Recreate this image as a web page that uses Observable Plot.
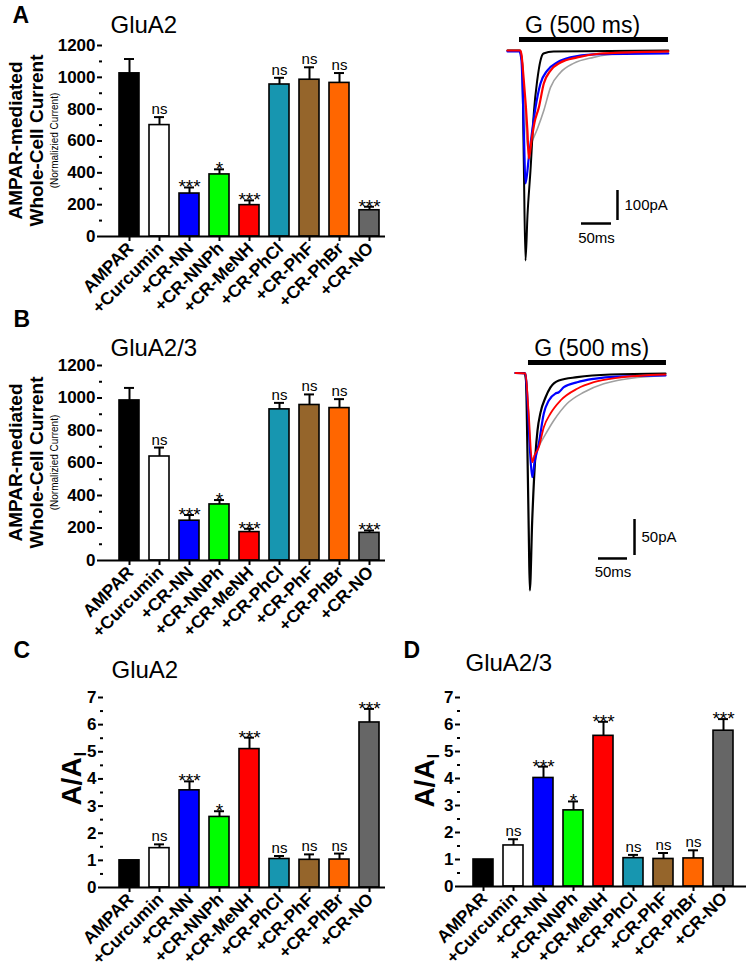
<!DOCTYPE html>
<html><head><meta charset="utf-8">
<script src="https://cdn.jsdelivr.net/npm/d3@7"></script>
<script src="https://cdn.jsdelivr.net/npm/@observablehq/plot@0.6"></script>
<style>
body{margin:0;background:#fff;}
#fig{position:relative;width:750px;height:969px;background:#fff;overflow:hidden;font-family:"Liberation Sans",Arial,sans-serif;}
</style></head><body><div id="fig"></div>
<script>
// ---------- data ----------
const categories = ["AMPAR","+Curcumin","+CR-NN","+CR-NNPh","+CR-MeNH","+CR-PhCl","+CR-PhF","+CR-PhBr","+CR-NO"];
const barColors = ["#000000","#ffffff","#0000ff","#00ff00","#ff0000","#1796b0","#95652b","#ff6600","#666666"];

const currentA    = [1025, 700, 270, 390, 197, 955, 985, 965, 165];
const currentAErr = [90, 50, 38, 32, 30, 42, 78, 62, 22];
const currentB    = [985, 640, 245, 345, 175, 930, 957, 938, 170];
const currentBErr = [77, 55, 35, 27, 20, 40, 65, 55, 15];
const ratioC      = [1, 1.45, 3.58, 2.6, 5.1, 1.05, 1.02, 1.03, 6.08];
const ratioCErr   = [0, 0.14, 0.33, 0.21, 0.42, 0.11, 0.2, 0.22, 0.5];
const ratioD      = [1, 1.52, 4.02, 2.82, 5.58, 1.05, 1.02, 1.04, 5.77];
const ratioDErr   = [0, 0.23, 0.42, 0.33, 0.52, 0.12, 0.22, 0.3, 0.43];
const sigAll      = ["", "ns", "***", "*", "***", "ns", "ns", "ns", "***"];

const currentTicks = [0, 200, 400, 600, 800, 1000, 1200];
const currentMinor = [100, 300, 500, 700, 900, 1100];
const ratioTicks   = [0, 1, 2, 3, 4, 5, 6, 7];
const ratioMinor   = [0.5, 1.5, 2.5, 3.5, 4.5, 5.5, 6.5];

// current traces (time in ms, current in pA)
const trA_black_t = [0, 20, 22.8, 24.5, 27.2, 30, 33.3, 38.3, 44.2, 49.5, 55, 60, 76.7, 268];
const trA_black_i = [0, 0, -17, -43, -377, -700, -550, -400, -200, -100, -33, -10, -3, 0];
const trA_blue_t  = [0, 20, 23.3, 27.2, 30, 35.5, 41.2, 46.7, 55, 66.2, 82.8, 105, 143.3, 268];
const trA_blue_i  = [-3, -3, -33, -267, -443, -357, -267, -190, -110, -67, -40, -23, -13, -10];
const trA_red_t   = [0, 21.7, 27.2, 33.2, 35.5, 40, 45, 52.2, 60.5, 71.7, 88.3, 116.2, 155, 188.3, 268];
const trA_red_i   = [0, 0, -100, -267, -360, -300, -240, -190, -110, -67, -40, -23, -10, -7, -3];
const trA_gray_t  = [0, 21.7, 35, 41.7, 50, 60.5, 71.7, 88.3, 110, 143.3, 188.3, 268];
const trA_gray_i  = [0, 0, -333, -300, -260, -200, -123, -73, -43, -23, -10, -7];

const trB_black_t = [0, 15.5, 18.1, 20.2, 23, 24.7, 28.8, 34.5, 37.9, 43.1, 51.7, 60.3, 74.7, 106.4, 163.8, 258.6];
const trB_black_i = [0, 0, -10.4, -89.6, -228, -302, -205, -112, -80, -55, -34, -20, -10.4, -5.8, -2.1, -0.7];
const trB_blue_t  = [0, 17.2, 20.7, 25, 28.8, 32.8, 40.2, 48.8, 57.4, 69, 74.7, 83.3, 106.4, 135, 175.3, 258.6];
const trB_blue_i  = [0, -0.7, -38.2, -107.6, -144.7, -124.3, -97.9, -56.3, -38.2, -28.5, -26.7, -19.7, -12.8, -8.1, -4.9, -3.5];
const trB_red_t   = [0, 17.2, 22.4, 28.8, 32.8, 40.2, 48.8, 60.3, 77.6, 106.4, 135, 175.3, 258.6];
const trB_red_i   = [0, -0.7, -52.1, -123.9, -114.6, -103.1, -75.3, -56.3, -38.2, -21.9, -12.8, -6.7, -2.1];
const trB_gray_t  = [17.2, 28.8, 36.2, 48.8, 66, 89.1, 117.8, 152.2, 175.3, 258.6];
const trB_gray_i  = [-0.7, -118.8, -107.6, -89.2, -66, -42.4, -26.7, -15, -10.4, -3.5];

// stimulus bar and scale bars (data units: ms, pA)
const stimA  = {t0: 20, t1: 268.3, i: 36.7};
const scaleA = {vt: 183.3, vi0: -466.7, vi1: -566.7, hi: -576.7, ht0: 123.3, ht1: 173.3, vLabel: "100pA", hLabel: "50ms"};
const stimB  = {t0: 22.4, t1: 260.3, i: 14.6};
const scaleB = {vt: 205.2, vi0: -203.5, vi1: -253.5, hi: -257.6, ht0: 143.1, ht1: 193.1, vLabel: "50pA", hLabel: "50ms"};

// ---------- drawing ----------
const fig = document.getElementById("fig");
const FONT = '"Liberation Sans", Arial, sans-serif';
function place(svg, left, top) {
  svg.style.position = "absolute";
  svg.style.left = left + "px";
  svg.style.top = top + "px";
  fig.appendChild(svg);
}

function barPanel(p) {
  const rows = categories.map((c, i) => ({cat: c, v: p.vals[i], e: p.errs[i], s: sigAll[i], color: barColors[i]}));
  const withErr = rows.filter(d => d.e > 0);
  const T = (str, px, py, o) => Plot.text([str], {frameAnchor: "top-left", dx: px - p.left - p.ml, dy: py - p.top - p.mt, text: d => d, ...o});
  const svg = Plot.plot({
    width: p.width, height: p.height,
    marginLeft: p.ml, marginTop: p.mt, marginRight: p.mr, marginBottom: p.mb,
    x: {type: "band", domain: categories, range: p.xRange, paddingInner: 0.34, paddingOuter: 0.17, align: 0.5},
    y: {domain: p.yDomain},
    color: {type: "identity"},
    style: {background: "transparent", overflow: "visible", fontFamily: FONT, fontWeight: "bold", color: "#000"},
    marks: [
      Plot.barY(rows, {x: "cat", y: "v", fill: "color", stroke: "#000", strokeWidth: 1.6}),
      Plot.ruleX(withErr, {x: "cat", y1: "v", y2: d => d.v + d.e, stroke: "#000", strokeWidth: 2}),
      Plot.tickY(withErr, {x: "cat", y: d => d.v + d.e, stroke: "#000", strokeWidth: 2, insetLeft: 5, insetRight: 5}),
      Plot.text(rows.filter(d => d.s === "ns"), {x: "cat", y: d => d.v + d.e, text: "s", dy: -3, lineAnchor: "bottom", fontSize: 15, fontWeight: "normal"}),
      Plot.text(rows.filter(d => d.s.startsWith("*")), {x: "cat", y: d => d.v + d.e, text: "s", dy: 6, lineAnchor: "bottom", fontSize: 19, fontWeight: "normal"}),
      Plot.ruleY([p.yDomain[0]], {stroke: "#000", strokeWidth: 2}),
      Plot.axisY({ticks: p.major, tickFormat: d => String(d), tickSize: 5, tickPadding: 2, fontSize: 17, strokeWidth: 2, line: true, label: null}),
      Plot.axisY({ticks: p.minor, tickFormat: () => "", tickSize: 3, strokeWidth: 2, label: null}),
      Plot.axisX({tickSize: 5, tickFormat: () => "", strokeWidth: 2, label: null}),
      Plot.text(categories, {x: d => d, text: d => d, frameAnchor: "bottom", rotate: -45, textAnchor: "end", lineAnchor: "middle", dx: 1, dy: 9, fontSize: 17.5}),
      ...p.labels(T)
    ]
  });
  place(svg, p.left, p.top);
}

function tracePanel(p) {
  const mk = (t, i) => t.map((tt, k) => ({t: tt, i: i[k]}));
  const svg = Plot.plot({
    width: p.width, height: p.height, margin: 0,
    x: {domain: [0, 270], range: p.xRange, axis: null},
    y: {domain: p.yDomain, range: p.yRange, axis: null},
    style: {background: "transparent", overflow: "visible", fontFamily: FONT, color: "#000"},
    marks: [
      ...p.traces.map(tr => Plot.line(mk(tr.t, tr.i), {x: "t", y: "i", stroke: tr.color, strokeWidth: tr.w, curve: "monotone-x"})),
      Plot.ruleY([p.stim], {y: "i", x1: "t0", x2: "t1", stroke: "#000", strokeWidth: 5}),
      Plot.ruleX([p.scale], {x: "vt", y1: "vi0", y2: "vi1", stroke: "#000", strokeWidth: 2.5}),
      Plot.ruleY([p.scale], {y: "hi", x1: "ht0", x2: "ht1", stroke: "#000", strokeWidth: 2.5}),
      Plot.text([p.stim], {x: d => (d.t0 + d.t1) / 2 - p.titleShift, y: d => d.i, dy: -6, text: () => "G (500 ms)", lineAnchor: "bottom", fontSize: 23}),
      Plot.text([p.scale], {x: "vt", y: d => (d.vi0 + d.vi1) / 2, dx: 7, text: "vLabel", textAnchor: "start", lineAnchor: "middle", fontSize: 15}),
      Plot.text([p.scale], {x: d => (d.ht0 + d.ht1) / 2, y: "hi", dy: 19, text: "hLabel", lineAnchor: "bottom", fontSize: 15})
    ]
  });
  place(svg, p.left, p.top);
}

const ylabCurrent = (T, cy) => [
  T("AMPAR-mediated", 15, cy, {rotate: -90, textAnchor: "middle", lineAnchor: "middle", fontSize: 19}),
  T("Whole-Cell Current", 36, cy, {rotate: -90, textAnchor: "middle", lineAnchor: "middle", fontSize: 19}),
  T("(Normalizied Current)", 54, cy, {rotate: -90, textAnchor: "middle", lineAnchor: "middle", fontSize: 10, fontWeight: "normal"})
];
const ylabRatio = (T, cx, cy) => [
  T("A/A", cx, cy, {rotate: -90, textAnchor: "middle", lineAnchor: "middle", fontSize: 28}),
  T("I", cx + 13, cy - 25, {rotate: -90, textAnchor: "start", lineAnchor: "bottom", fontSize: 17})
];

barPanel({left: 0, top: 0, width: 390, height: 330, ml: 102, mt: 45, mr: 5, mb: 94, xRange: [112.9, 385],
  yDomain: [0, 1200], vals: currentA, errs: currentAErr, major: currentTicks, minor: currentMinor,
  labels: T => [
    T("A", 12, 22, {fontSize: 23, textAnchor: "start", lineAnchor: "bottom"}),
    T("GluA2", 110, 32, {fontSize: 24, fontWeight: "normal", textAnchor: "start", lineAnchor: "bottom"}),
    ...ylabCurrent(T, 140)
  ]});

barPanel({left: 0, top: 330, width: 390, height: 310, ml: 102, mt: 35, mr: 5, mb: 80, xRange: [112.9, 385],
  yDomain: [0, 1200], vals: currentB, errs: currentBErr, major: currentTicks, minor: currentMinor,
  labels: T => [
    T("B", 13, 326, {fontSize: 23, textAnchor: "start", lineAnchor: "bottom"}),
    T("GluA2/3", 110, 355, {fontSize: 24, fontWeight: "normal", textAnchor: "start", lineAnchor: "bottom"}),
    ...ylabCurrent(T, 462)
  ]});

barPanel({left: 0, top: 640, width: 390, height: 329, ml: 103, mt: 57, mr: 5, mb: 82, xRange: [113, 385],
  yDomain: [0, 7], vals: ratioC, errs: ratioCErr, major: ratioTicks, minor: ratioMinor,
  labels: T => [
    T("C", 13, 657, {fontSize: 23, textAnchor: "start", lineAnchor: "bottom"}),
    T("GluA2", 111, 677, {fontSize: 24, fontWeight: "normal", textAnchor: "start", lineAnchor: "bottom"}),
    ...ylabRatio(T, 72, 781)
  ]});

barPanel({left: 370, top: 640, width: 380, height: 329, ml: 90, mt: 57, mr: 4, mb: 83, xRange: [97.6, 369],
  yDomain: [0, 7], vals: ratioD, errs: ratioDErr, major: ratioTicks, minor: ratioMinor,
  labels: T => [
    T("D", 403, 657, {fontSize: 23, textAnchor: "start", lineAnchor: "bottom"}),
    T("GluA2/3", 465, 670, {fontSize: 24, fontWeight: "normal", textAnchor: "start", lineAnchor: "bottom"}),
    ...ylabRatio(T, 425, 783)
  ]});

tracePanel({left: 480, top: 0, width: 270, height: 300, xRange: [27, 189], yDomain: [-750, 50], yRange: [275, 35],
  stim: stimA, scale: scaleA, titleShift: 19,
  traces: [
    {t: trA_gray_t, i: trA_gray_i, color: "#a0a0a0", w: 1.6},
    {t: trA_black_t, i: trA_black_i, color: "#000000", w: 2},
    {t: trA_blue_t, i: trA_blue_i, color: "#0000ff", w: 2.2},
    {t: trA_red_t, i: trA_red_i, color: "#ff0000", w: 2.2}
  ]});

tracePanel({left: 480, top: 330, width: 270, height: 300, xRange: [35, 191.6], yDomain: [-320, 40], yRange: [272.9, 13.7],
  stim: stimB, scale: scaleB, titleShift: 10,
  traces: [
    {t: trB_gray_t, i: trB_gray_i, color: "#a0a0a0", w: 1.6},
    {t: trB_black_t, i: trB_black_i, color: "#000000", w: 2.2},
    {t: trB_blue_t, i: trB_blue_i, color: "#0000ff", w: 2.2},
    {t: trB_red_t, i: trB_red_i, color: "#ff0000", w: 1.8}
  ]});
</script></body></html>
